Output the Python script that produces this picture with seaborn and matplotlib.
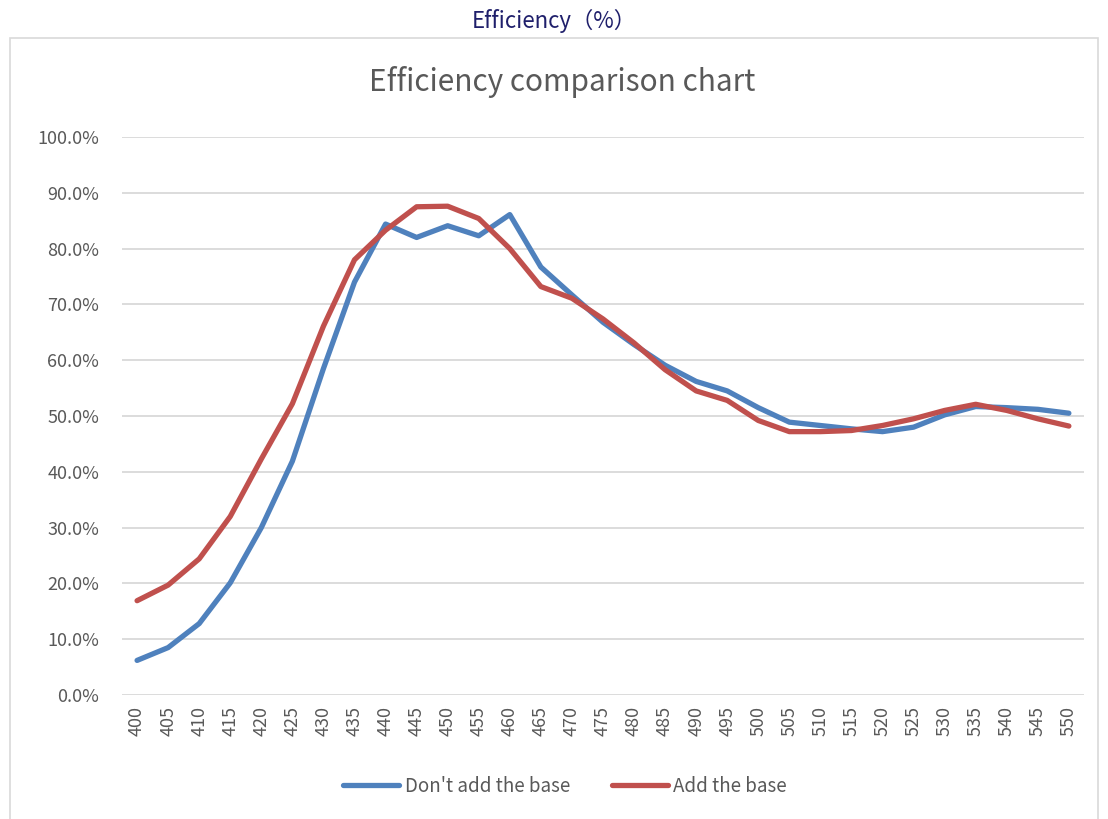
import pandas as pd
import seaborn as sns
import matplotlib.pyplot as plt
from matplotlib.patches import Rectangle
from matplotlib.ticker import PercentFormatter

wavelength = list(range(400, 551, 5))
no_base = [6.2, 8.5, 12.8, 20.1, 30.0, 41.9, 58.5, 74.0, 84.4, 82.0, 84.1, 82.3, 86.1,
           76.7, 71.7, 66.8, 62.8, 59.1, 56.2, 54.5, 51.5, 48.9, 48.3, 47.7, 47.2,
           48.0, 50.2, 51.7, 51.5, 51.2, 50.5]
with_base = [16.9, 19.7, 24.4, 32.0, 42.3, 52.2, 66.1, 78.0, 83.3, 87.5, 87.6, 85.4, 80.0,
             73.2, 71.1, 67.4, 63.1, 58.3, 54.5, 52.8, 49.2, 47.2, 47.2, 47.4, 48.3,
             49.5, 51.0, 52.1, 51.0, 49.5, 48.2]
series_names = ["Don't add the base", "Add the base"]
colors = ["#4F81BD", "#C0504D"]

df = pd.DataFrame({
    "wl": wavelength * 2,
    "eff": no_base + with_base,
    "series": [series_names[0]] * len(wavelength) + [series_names[1]] * len(wavelength),
})

sns.set_style("white")
plt.rcParams["font.family"] = ["Noto Sans CJK SC", "DejaVu Sans"]

fig = plt.figure(figsize=(11.08, 8.19), dpi=100)
ax = fig.add_axes([0.1097, 0.1514, 0.869, 0.6813])

# chart frame
fig.patches.append(Rectangle((10 / 1108, -0.01), 1088 / 1108, 1 - 38 / 819 + 0.01,
                             transform=fig.transFigure, fill=False,
                             edgecolor="#D9D9D9", linewidth=1.2))

sns.lineplot(data=df, x="wl", y="eff", hue="series", palette=colors,
             linewidth=3.8, ax=ax, legend=False)

ax.set_xlim(397.5, 552.5)
ax.set_ylim(0, 100)
ax.set_yticks(range(0, 101, 10))
ax.yaxis.set_major_formatter(PercentFormatter(decimals=1))
ax.set_xticks(wavelength)
ax.set_xticklabels([str(w) for w in wavelength], rotation=90)
ax.tick_params(axis="both", length=0, labelsize=13, labelcolor="#595959")
ax.tick_params(axis="y", pad=16)
ax.tick_params(axis="x", pad=8)
ax.grid(axis="y", color="#D9D9D9", linewidth=1.3)
ax.set_axisbelow(True)
for s in ax.spines.values():
    s.set_visible(False)
ax.set_xlabel("")
ax.set_ylabel("")

fig.text(0.507, 1 - 82 / 819, "Efficiency comparison chart", ha="center", va="center",
         fontsize=21.5, color="#595959")
fig.text(0.5, 1 - 21 / 819, "Efficiency（%）", ha="center", va="center",
         fontsize=16, color="#1F1F6B")

handles = [plt.Line2D([], [], color=c, linewidth=3.8) for c in colors]
fig.legend(handles, series_names, loc="center", bbox_to_anchor=(0.51, 1 - 786 / 819),
           ncol=2, frameon=False, fontsize=13.5, labelcolor="#595959",
           handlelength=3.0, handletextpad=0.3, columnspacing=2.2)

plt.savefig("out.png", dpi=100)
